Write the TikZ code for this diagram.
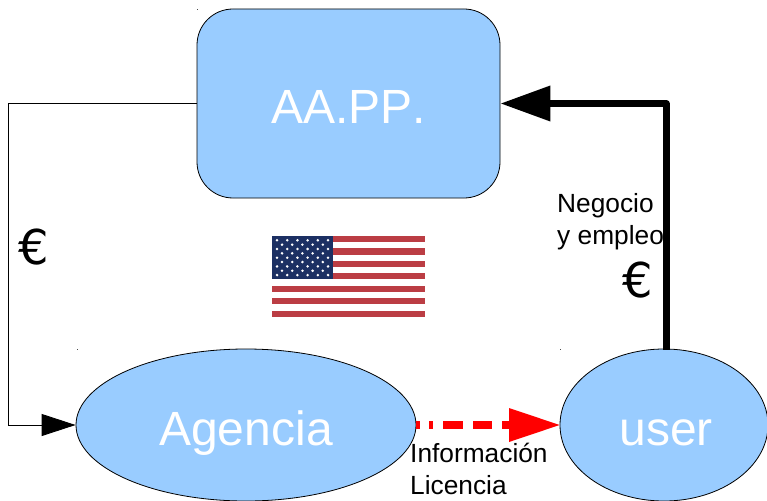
\documentclass[tikz,border=0pt]{standalone}
\usepackage{fontspec}
\setmainfont{Liberation Sans}
\newfontfamily\euroface{DejaVu Sans}
\newfontfamily\nokern[Kerning=Off]{Liberation Sans}
\usetikzlibrary{arrows.meta,shapes.geometric}
\definecolor{boxblue}{HTML}{99CCFF}
\definecolor{flagred}{HTML}{BB3D44}
\definecolor{flagnavy}{HTML}{1C3063}
\tikzset{
  px/.style={x=1pt,y=-1pt},
  boxnode/.style={draw=black,line width=0.8pt,fill=boxblue,text=white,inner sep=0pt,font=\nokern\fontsize{48}{48}\selectfont},
  ovalnode/.style={boxnode,ellipse},
  thinline/.style={draw=black,line width=0.9pt,-{Triangle[length=34pt,width=22pt,fill=black]},shorten >=0pt},
  thickline/.style={draw=black,line width=7pt,line join=round,-{Triangle[length=50pt,width=34pt,fill=black]}},
  redline/.style={draw=red,line width=8pt,dash pattern=on 4pt off 9pt on 4pt off 10pt on 20pt off 10pt on 19pt off 10pt on 20pt},
  redhead/.style={fill=red,draw=none},
  labeltext/.style={anchor=base west,inner sep=0pt,font=\fontsize{26.3}{26.3}\selectfont},
  euro/.style={inner sep=0pt,font=\euroface\fontsize{48}{48}\selectfont},
  speck/.style={fill=black!70}
}
\begin{document}
\begin{tikzpicture}[px]
\useasboundingbox (0,0) rectangle (767,500);
% tiny specks
\fill[speck] (197,9) rectangle +(1,1);
\fill[speck] (76.5,349) rectangle +(1,1);
\fill[speck] (560,349) rectangle +(1,1);
% flag
\foreach \i in {0,...,6}
  \fill[flagred] (272,{236+12.42*\i}) rectangle (425,{236+12.42*\i+6.2});
\fill[flagnavy] (272,236) rectangle (333,279.4);
\foreach \r in {0,2,4,6,8}\foreach \c in {0,...,5}
  \fill[white] ({277+10.2*\c},{240.3+4.35*\r}) circle (1.4);
\foreach \r in {1,3,5,7}\foreach \c in {0,...,4}
  \fill[white] ({282+10.2*\c},{240.3+4.35*\r}) circle (1.4);
% shapes
\node[boxnode,rectangle,rounded corners=36pt,minimum width=303pt,minimum height=189pt] (aapp) at (348.5,103.5) {\raisebox{-19.5pt}[0pt][0pt]{AA.PP.}};
\node[ovalnode,minimum width=340pt,minimum height=152pt] (agencia) at (246,425) {\raisebox{-20pt}[0pt][0pt]{Agencia}};
\node[ovalnode,minimum width=208pt,minimum height=152pt] (user) at (664,425) {\hspace*{4pt}\raisebox{-20pt}[0pt][0pt]{user}};
% connectors
\coordinate (lefttop) at (8.5,103.5);
\coordinate (leftbot) at (8.5,425);
\coordinate (thickcorner) at (666,103.5);
\coordinate (thickstart) at (666,349.5);
\draw[thinline] (aapp.west) -- (lefttop) -- (leftbot) -- (agencia.west);
\draw[thickline] (thickstart) -- (thickcorner) -- (aapp.east);
\coordinate (redtip) at (user.west);
\coordinate (redbase) at (509,425);
\draw[redline] (agencia.east) -- (redbase);
\fill[redhead] (redtip) -- (509,408) -- (509,442) -- cycle;
% labels
\node[labeltext] (l1) at (557,212) {Negocio};
\node[labeltext] (l2) at (557,244) {y empleo};
\node[labeltext] (l3) at (410,462) {Información};
\node[labeltext] (l4) at (410,494) {Licencia};
\node[euro] (e1) at (33.5,247) {€};
\node[euro] (e2) at (638,280) {€};
\end{tikzpicture}
\end{document}
